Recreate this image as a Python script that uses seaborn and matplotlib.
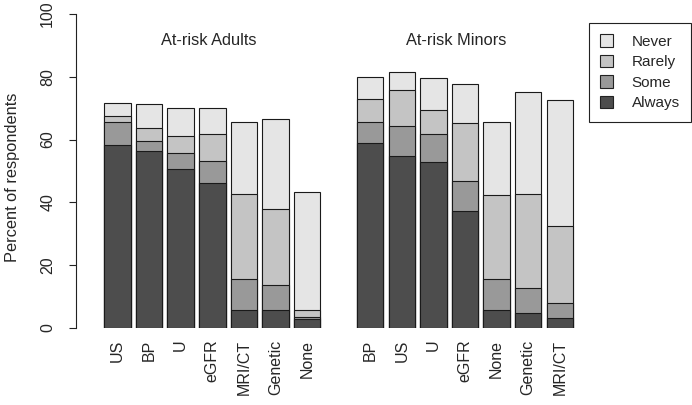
import numpy as np
import pandas as pd
import seaborn as sns
import matplotlib.pyplot as plt
from matplotlib.patches import Patch

sns.set_style("white")
plt.rcParams['font.family'] = ['Liberation Sans', 'DejaVu Sans']

# categories for each group (in plotted order)
adult_labels = ['US', 'BP', 'U', 'eGFR', 'MRI/CT', 'Genetic', 'None']
minor_labels = ['BP', 'US', 'U', 'eGFR', 'None', 'Genetic', 'MRI/CT']

# percent of respondents per frequency level (segments, bottom to top)
adult_always = [58.4, 56.5, 50.6, 46.1, 5.6, 5.6, 2.9]
adult_some   = [7.2, 3.1, 5.1, 7.1, 10.1, 8.0, 0.6]
adult_rarely = [1.9, 4.2, 5.3, 8.6, 26.9, 24.4, 2.1]
adult_never  = [4.1, 7.5, 9.2, 8.4, 23.0, 28.5, 37.7]

minor_always = [58.9, 54.7, 53.0, 37.4, 5.7, 4.7, 3.1]
minor_some   = [6.6, 9.6, 8.7, 9.4, 9.9, 8.1, 5.0]
minor_rarely = [7.3, 11.4, 7.6, 18.4, 26.9, 30.0, 24.4]
minor_never  = [7.0, 5.9, 10.2, 12.4, 23.0, 32.5, 40.1]

levels = ['Always', 'Some', 'Rarely', 'Never']
colors = {'Always': '#4d4d4d', 'Some': '#999999', 'Rarely': '#c4c4c4', 'Never': '#e5e5e5'}

# one empty slot between the two groups
pos = list(range(7)) + list(range(8, 15))
df = pd.DataFrame({
    'pos': pos,
    'label': adult_labels + minor_labels,
    'Always': adult_always + minor_always,
    'Some': adult_some + minor_some,
    'Rarely': adult_rarely + minor_rarely,
    'Never': adult_never + minor_never,
})
# cumulative tops for stacking
df[levels] = df[levels].cumsum(axis=1)

fig = plt.figure(figsize=(6.92, 4.05), dpi=100)
ax = fig.add_axes([76 / 692, 77 / 405, 504 / 692, 314 / 405])

# draw tallest layer first, overlay lower layers
for lev in ['Never', 'Rarely', 'Some', 'Always']:
    sns.barplot(data=df, x='pos', y=lev, native_scale=True, width=0.84,
                color=colors[lev], saturation=1, edgecolor='#1a1a1a',
                linewidth=0.8, errorbar=None, ax=ax)

ax.set_xlim(-1.313, 14.64)
ax.set_ylim(0, 100)
ax.set_xticks(pos)
ax.set_xticklabels(df['label'], rotation=90, fontsize=11.5)
ax.tick_params(axis='x', length=0, pad=8.5)
ax.set_yticks([0, 20, 40, 60, 80, 100])
ax.set_yticklabels(['0', '20', '40', '60', '80', '100'], rotation=90,
                   va='center', fontsize=11.5)
ax.tick_params(axis='y', left=True, length=5, width=0.8, pad=10, color='#222222')
ax.set_xlabel('')
ax.set_ylabel('')
for s in ['top', 'right', 'bottom']:
    ax.spines[s].set_visible(False)
ax.spines['left'].set_bounds(0, 100)
ax.spines['left'].set_color('#222222')
ax.spines['left'].set_linewidth(0.8)

fig.text(13 / 692, 1 - 177 / 405, 'Percent of respondents', rotation=90,
         ha='center', va='center', fontsize=11.8)

ax.text(2.9, 91.7, 'At-risk Adults', ha='center', va='center', fontsize=11.8)
ax.text(10.73, 91.7, 'At-risk Minors', ha='center', va='center', fontsize=11.8)

handles = [Patch(facecolor=colors[l], edgecolor='#222222', linewidth=0.8, label=l)
           for l in ['Never', 'Rarely', 'Some', 'Always']]
leg = fig.legend(handles=handles, loc='upper left', bbox_to_anchor=(589 / 692, 1 - 23 / 405),
                 fancybox=False, framealpha=1, edgecolor='#222222', fontsize=11,
                 handlelength=0.85, handleheight=0.85, handletextpad=1.2,
                 labelspacing=0.4, borderpad=0.75, borderaxespad=0)
leg.get_frame().set_linewidth(0.8)

fig.savefig('out.png', dpi=100)
